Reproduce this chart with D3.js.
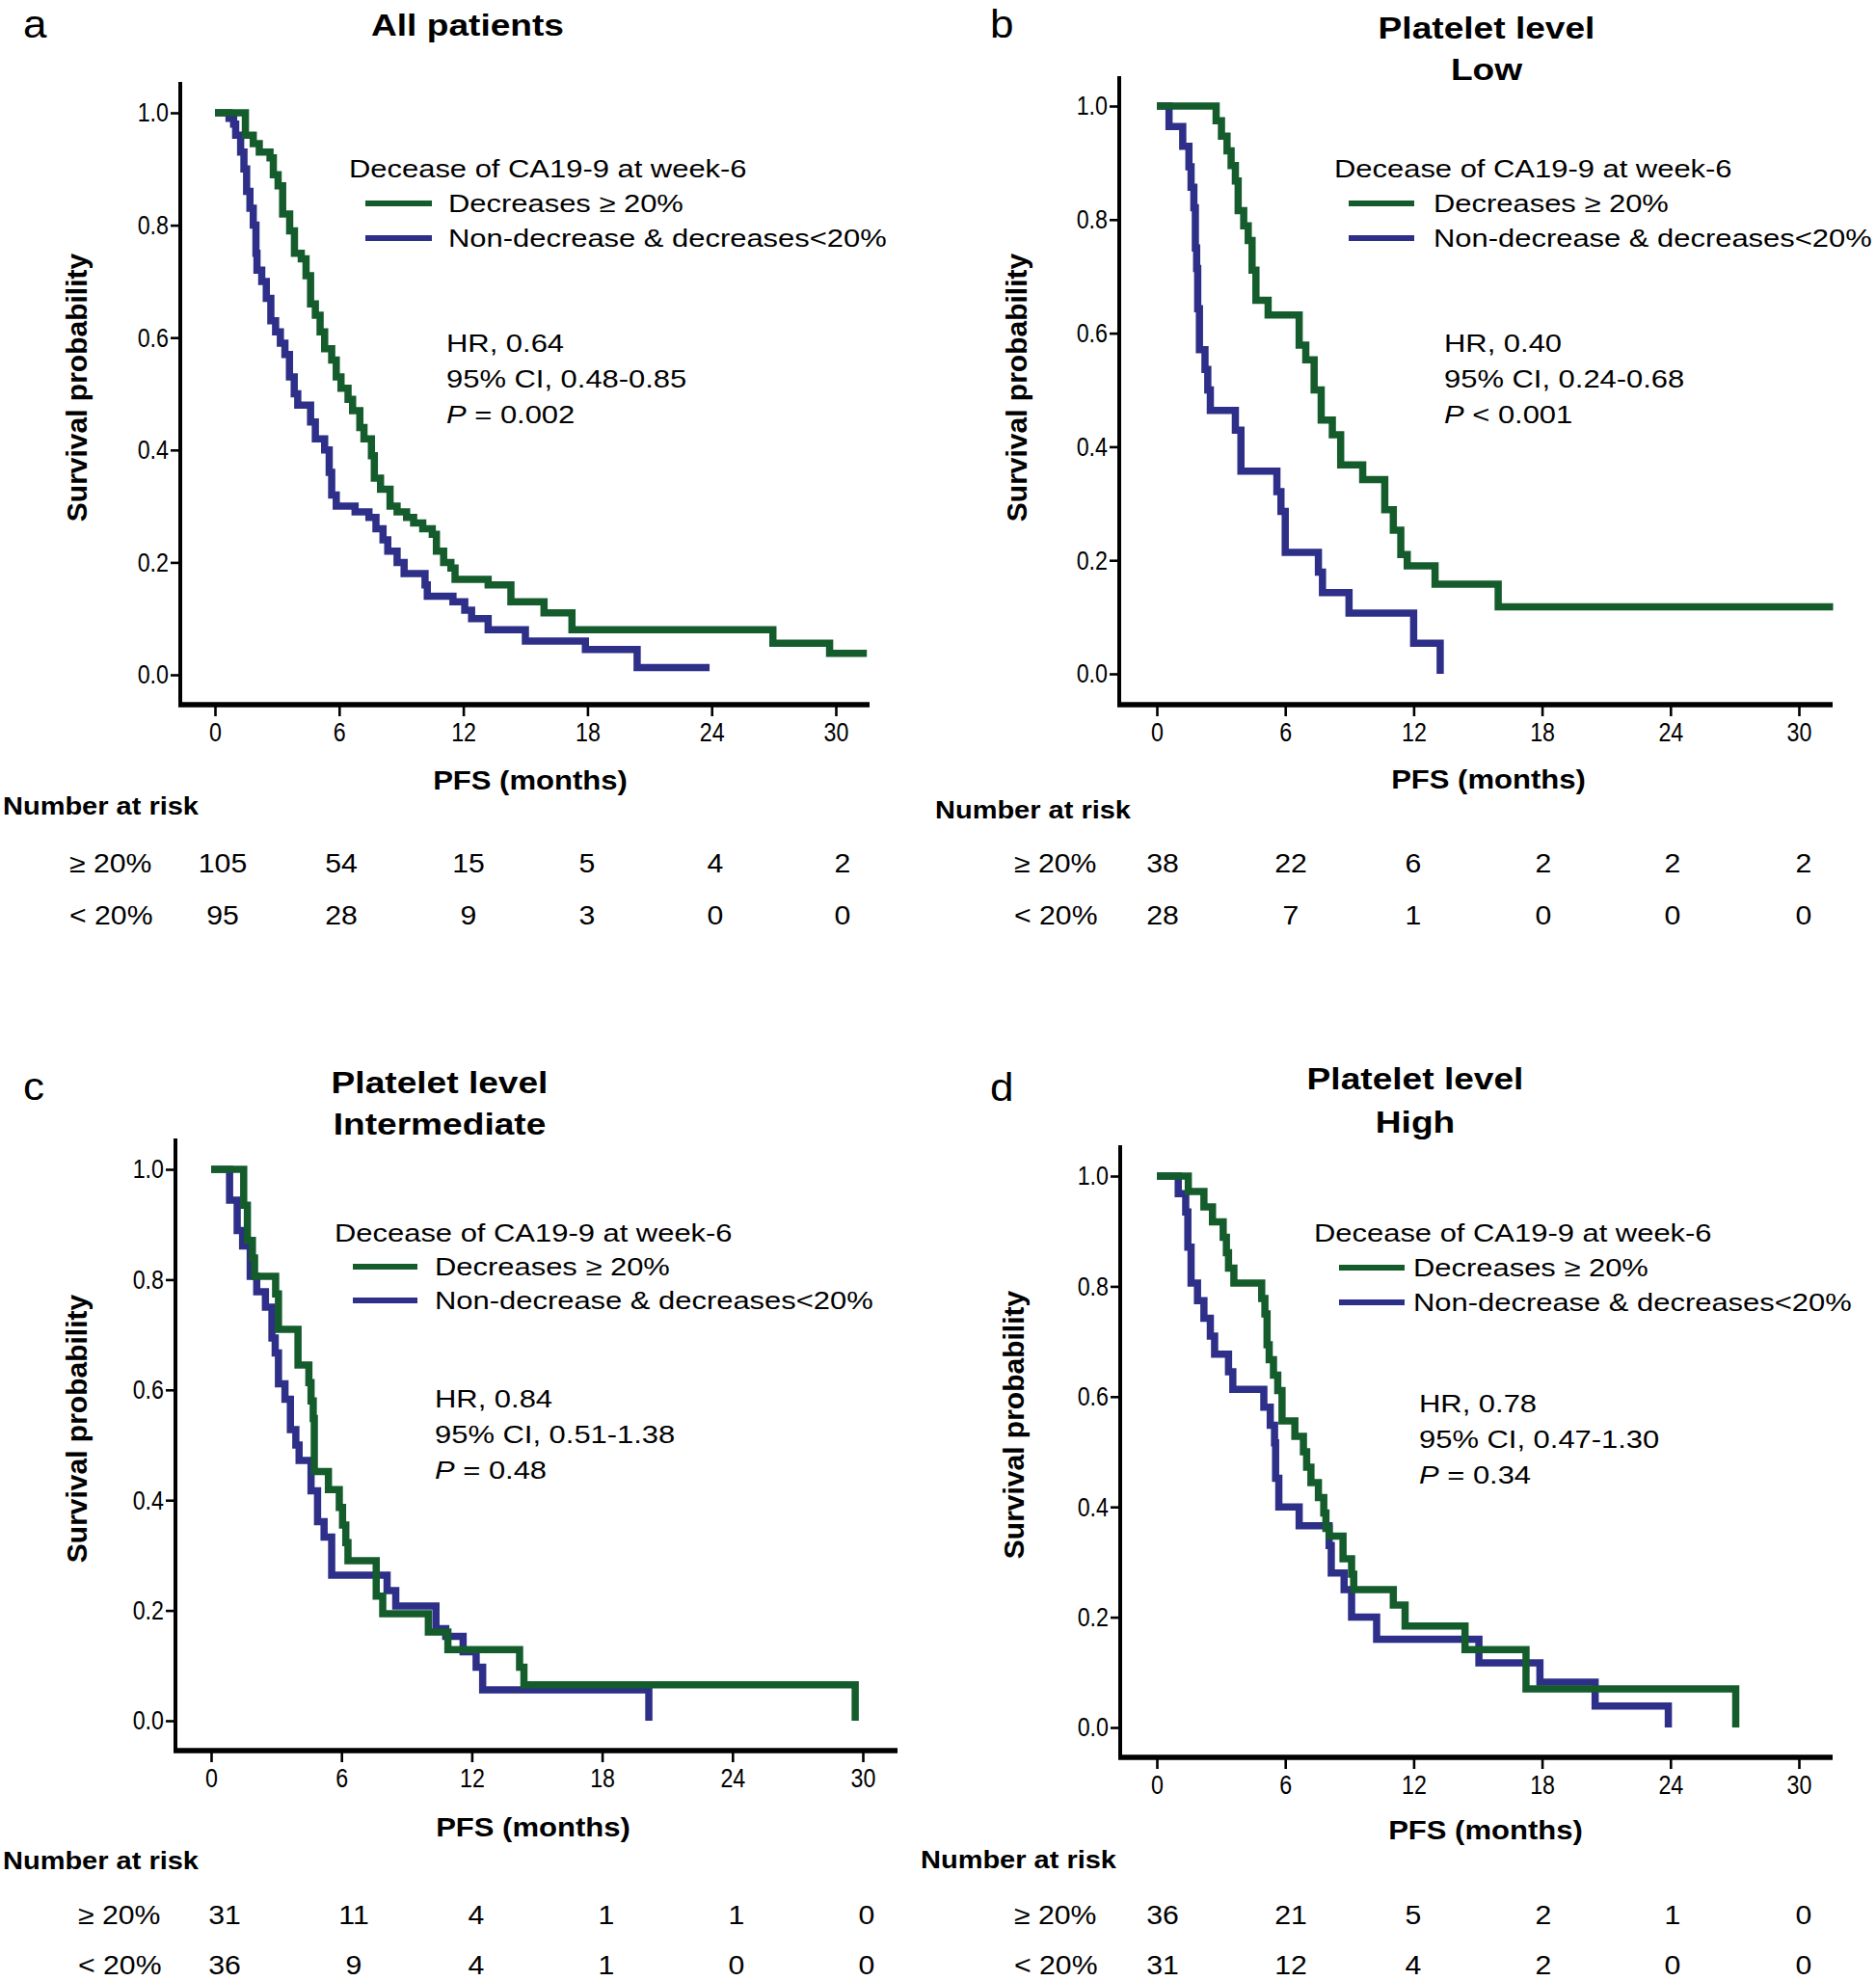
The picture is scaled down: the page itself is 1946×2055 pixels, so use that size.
<!DOCTYPE html>
<html><head><meta charset="utf-8">
<script src="https://cdn.jsdelivr.net/npm/d3@7"></script>
<style>
body{margin:0;background:#fff}
svg{display:block}
text{font-family:"Liberation Sans",Arial,Helvetica,sans-serif;fill:#000}
</style>
</head><body>
<svg id="chart" width="1946" height="2055"></svg>
<script>
// ---------- DATA ----------
const timeTicks = [0, 6, 12, 18, 24, 30];
const survTicks = [0, 0.2, 0.4, 0.6, 0.8, 1.0];
const legendTitle = "Decease of CA19-9 at week-6";
const groupNames = ["Decreases \u2265 20%", "Non-decrease & decreases<20%"];
const riskRowLabels = ["\u2265 20%", "< 20%"];
const panelLetters = ["a", "b", "c", "d"];
const panelTitles = [["All patients"], ["Platelet level", "Low"], ["Platelet level", "Intermediate"], ["Platelet level", "High"]];
const hrTexts = ["HR, 0.64", "HR, 0.40", "HR, 0.84", "HR, 0.78"];
const ciTexts = ["95% CI, 0.48-0.85", "95% CI, 0.24-0.68", "95% CI, 0.51-1.38", "95% CI, 0.47-1.30"];
const pTexts = [" = 0.002", " < 0.001", " = 0.48", " = 0.34"];
const xLabel = "PFS (months)";
const yLabel = "Survival probability";
const riskTitle = "Number at risk";

// Kaplan-Meier step points [months, survival]
const aGreen = [[0,1],[1.47,0.96],[1.85,0.945],[2.14,0.93],[2.66,0.92],[2.82,0.89],[3.05,0.87],[3.27,0.82],[3.61,0.79],[3.84,0.75],[4.17,0.74],[4.4,0.71],[4.62,0.66],[4.85,0.64],[5.08,0.61],[5.3,0.58],[5.64,0.56],[5.86,0.53],[6.09,0.51],[6.43,0.49],[6.65,0.47],[7.0,0.44],[7.2,0.42],[7.56,0.39],[7.7,0.35],[8.0,0.33],[8.46,0.30],[8.8,0.29],[9.26,0.28],[9.6,0.27],[10.04,0.26],[10.5,0.25],[10.7,0.22],[11.05,0.20],[11.4,0.19],[11.6,0.17],[13.2,0.16],[14.3,0.13],[15.9,0.11],[17.25,0.08],[26.96,0.056],[29.7,0.038],[31.5,0.038]];
const aBlue = [[0,1],[0.68,0.99],[0.9,0.98],[1.0,0.96],[1.24,0.93],[1.4,0.90],[1.53,0.86],[1.69,0.83],[1.85,0.80],[1.98,0.75],[2.03,0.72],[2.26,0.70],[2.48,0.67],[2.7,0.63],[2.93,0.61],[3.16,0.59],[3.38,0.57],[3.6,0.53],[3.83,0.50],[4.0,0.48],[4.62,0.45],[4.85,0.42],[5.3,0.40],[5.52,0.36],[5.64,0.32],[5.86,0.30],[6.77,0.29],[7.44,0.28],[7.78,0.26],[8.12,0.24],[8.35,0.22],[8.8,0.20],[9.14,0.18],[10.15,0.16],[10.26,0.14],[11.5,0.13],[12.07,0.115],[12.4,0.10],[13.2,0.08],[15.0,0.06],[17.9,0.045],[20.4,0.013],[23.9,0.013]];
const bGreen = [[0,1],[2.77,0.974],[3.02,0.947],[3.28,0.921],[3.47,0.895],[3.67,0.868],[3.8,0.816],[4.06,0.789],[4.27,0.763],[4.45,0.711],[4.63,0.658],[5.2,0.632],[6.65,0.579],[6.96,0.553],[7.35,0.50],[7.68,0.447],[8.2,0.421],[8.59,0.368],[9.62,0.342],[10.65,0.289],[11.05,0.253],[11.4,0.21],[11.7,0.19],[13.0,0.158],[15.95,0.118],[31.6,0.118]];
const bBlue = [[0,1],[0.57,0.964],[1.21,0.929],[1.5,0.893],[1.6,0.857],[1.73,0.821],[1.8,0.75],[1.86,0.714],[1.91,0.643],[1.99,0.571],[2.25,0.536],[2.38,0.50],[2.5,0.464],[3.67,0.429],[3.93,0.357],[5.61,0.321],[5.8,0.286],[6.0,0.214],[7.55,0.179],[7.74,0.143],[8.98,0.107],[12.0,0.054],[13.24,0.0]];
const cGreen = [[0,1],[1.5,0.935],[1.67,0.871],[1.9,0.839],[2.0,0.806],[2.97,0.774],[3.1,0.71],[4.0,0.645],[4.5,0.613],[4.6,0.58],[4.7,0.548],[4.75,0.452],[5.4,0.419],[5.9,0.387],[6.05,0.355],[6.2,0.323],[6.3,0.29],[7.6,0.226],[7.9,0.194],[10.0,0.161],[10.9,0.129],[14.2,0.097],[14.4,0.065],[29.65,0.0]];
const cBlue = [[0,1],[0.85,0.944],[1.2,0.889],[1.45,0.861],[1.8,0.806],[2.1,0.778],[2.5,0.75],[2.8,0.694],[2.95,0.667],[3.1,0.611],[3.4,0.583],[3.65,0.528],[3.9,0.50],[4.05,0.472],[4.6,0.417],[4.9,0.361],[5.2,0.333],[5.55,0.264],[8.1,0.236],[8.5,0.208],[10.35,0.167],[10.8,0.153],[11.6,0.125],[12.2,0.097],[12.5,0.056],[20.15,0.0]];
const dGreen = [[0,1],[1.47,0.972],[2.2,0.944],[2.6,0.917],[3.1,0.889],[3.25,0.861],[3.35,0.833],[3.6,0.806],[4.9,0.778],[5.05,0.75],[5.15,0.694],[5.25,0.667],[5.45,0.639],[5.65,0.611],[5.85,0.556],[6.45,0.528],[6.85,0.50],[7.0,0.472],[7.2,0.444],[7.55,0.417],[7.8,0.389],[7.9,0.361],[8.05,0.347],[8.7,0.306],[9.1,0.278],[9.2,0.25],[11.05,0.222],[11.6,0.184],[14.4,0.141],[17.25,0.07],[27.05,0.0]];
const dBlue = [[0,1],[1.0,0.968],[1.35,0.935],[1.45,0.871],[1.6,0.806],[1.9,0.774],[2.2,0.742],[2.5,0.71],[2.7,0.677],[3.35,0.645],[3.55,0.613],[5.0,0.581],[5.3,0.548],[5.5,0.516],[5.55,0.452],[5.7,0.40],[6.65,0.366],[8.05,0.33],[8.15,0.28],[8.75,0.25],[9.1,0.2],[10.27,0.16],[15.05,0.117],[17.9,0.082],[20.48,0.039],[23.9,0.0]];

// Number at risk
const aRiskHigh = [105, 54, 15, 5, 4, 2];
const aRiskLow  = [95, 28, 9, 3, 0, 0];
const bRiskHigh = [38, 22, 6, 2, 2, 2];
const bRiskLow  = [28, 7, 1, 0, 0, 0];
const cRiskHigh = [31, 11, 4, 1, 1, 0];
const cRiskLow  = [36, 9, 4, 1, 0, 0];
const dRiskHigh = [36, 21, 5, 2, 1, 0];
const dRiskLow  = [31, 12, 4, 2, 0, 0];

const greenCurves = [aGreen, bGreen, cGreen, dGreen];
const blueCurves = [aBlue, bBlue, cBlue, dBlue];
const riskHigh = [aRiskHigh, bRiskHigh, cRiskHigh, dRiskHigh];
const riskLow = [aRiskLow, bRiskLow, cRiskLow, dRiskLow];

// ---------- LAYOUT ----------
const COLORS = {green: "#145c2c", blue: "#2d2f88"};
const layouts = [
  {axisX:187, axisY:731, yTop:85, xRight:902, x0:223, x30:867, y1:117, y0:700,
   letter:[24,39], titleX:485, titleY:[26], xLabX:550, xLabY:810, yLabX:79, yLabY:402,
   legX:362, legY:175, legLine:[379,448], legTextX:465, legDy:36, statX:463, statY:356, statDy:37,
   riskTitle:[3,836], rowLabX:72, rowY:[896,950], riskXs:[231,354,486,609,742,874]},
  {axisX:1161, axisY:731, yTop:79, xRight:1901, x0:1200, x30:1866, y1:110, y0:699,
   letter:[1027,39], titleX:1542, titleY:[29,72], xLabX:1544, xLabY:809, yLabX:1054, yLabY:402,
   legX:1384, legY:175, legLine:[1399,1467], legTextX:1487, legDy:36, statX:1498, statY:356, statDy:37,
   riskTitle:[970,840], rowLabX:1052, rowY:[896,950], riskXs:[1206,1339,1466,1601,1735,1871]},
  {axisX:182, axisY:1816, yTop:1181, xRight:931, x0:219, x30:895, y1:1213, y0:1785,
   letter:[24,1141], titleX:456, titleY:[1123,1166], xLabX:553, xLabY:1896, yLabX:79, yLabY:1482,
   legX:347, legY:1279, legLine:[366,433], legTextX:451, legDy:35, statX:451, statY:1451, statDy:37,
   riskTitle:[3,1930], rowLabX:81, rowY:[1987,2039], riskXs:[233,367,494,629,764,899]},
  {axisX:1162, axisY:1823, yTop:1188, xRight:1901, x0:1200, x30:1866, y1:1220, y0:1792,
   letter:[1027,1142], titleX:1468, titleY:[1119,1164], xLabX:1541, xLabY:1899, yLabX:1051, yLabY:1478,
   legX:1363, legY:1279, legLine:[1389,1457], legTextX:1466, legDy:36, statX:1472, statY:1456, statDy:37,
   riskTitle:[955,1929], rowLabX:1052, rowY:[1987,2039], riskXs:[1206,1339,1466,1601,1735,1871]}
];

// text styles: size = glyph height based, sx = horizontal stretch
const ST = {
  letter: {size: 40, sx: 1.1},
  title:  {size: 32, sx: 1.16, weight: "bold"},
  axisLab:{size: 27, sx: 1.15, weight: "bold"},
  yLab:   {size: 30, sx: 1.0, weight: "bold"},
  legend: {size: 26, sx: 1.19},
  riskT:  {size: 25, sx: 1.16, weight: "bold"},
  risk:   {size: 27, sx: 1.12},
  tick:   {size: 28, sx: 0.83}
};

const svg = d3.select("#chart");
svg.append("rect").attr("width", 1946).attr("height", 2055).attr("fill", "#fff");

function addText(g, x, y, s, st, anchor, rot) {
  const t = g.append("text")
    .attr("transform", `translate(${x},${y})${rot ? " rotate(" + rot + ")" : ""} scale(${st.sx},1)`)
    .attr("font-size", st.size)
    .attr("dominant-baseline", "central")
    .attr("text-anchor", anchor || "start");
  if (st.weight) t.attr("font-weight", st.weight);
  if (s !== null) t.text(s);
  return t;
}

layouts.forEach((L, i) => {
  const g = svg.append("g");
  const x = d3.scaleLinear().domain([0, 30]).range([L.x0, L.x30]);
  const y = d3.scaleLinear().domain([0, 1]).range([L.y0, L.y1]);

  g.append("text").attr("transform", `translate(${L.letter[0]},${L.letter[1]}) scale(${ST.letter.sx},1)`)
    .attr("font-size", ST.letter.size).text(panelLetters[i]);

  panelTitles[i].forEach((t, k) => addText(g, L.titleX, L.titleY[k], t, ST.title, "middle"));

  // axes
  const yAxis = d3.axisLeft(y).tickValues(survTicks).tickFormat(d3.format(".1f"))
    .tickSize(10).tickPadding(2);
  const yg = g.append("g").attr("transform", `translate(${L.axisX},0)`).call(yAxis);
  yg.select(".domain").remove();
  yg.selectAll(".tick line").attr("stroke", "#000").attr("stroke-width", 2.6);
  yg.selectAll(".tick text").attr("font-size", ST.tick.size).attr("font-family", null).attr("fill", "#000")
    .attr("x", 0).attr("transform", `translate(-12,0) scale(${ST.tick.sx},1)`);

  const xAxis = d3.axisBottom(x).tickValues(timeTicks).tickFormat(d3.format("d"))
    .tickSize(12).tickPadding(6);
  const xg = g.append("g").attr("transform", `translate(0,${L.axisY})`).call(xAxis);
  xg.select(".domain").remove();
  xg.selectAll(".tick line").attr("stroke", "#000").attr("stroke-width", 2.6);
  xg.selectAll(".tick text").attr("font-size", ST.tick.size).attr("font-family", null).attr("fill", "#000")
    .attr("transform", `scale(${ST.tick.sx},1)`);

  g.append("line").attr("x1", L.axisX).attr("x2", L.axisX).attr("y1", L.yTop).attr("y2", L.axisY + 2)
    .attr("stroke", "#000").attr("stroke-width", 4);
  g.append("line").attr("x1", L.axisX - 2).attr("x2", L.xRight).attr("y1", L.axisY).attr("y2", L.axisY)
    .attr("stroke", "#000").attr("stroke-width", 5.5);

  addText(g, L.xLabX, L.xLabY, xLabel, ST.axisLab, "middle");
  addText(g, L.yLabX, L.yLabY, yLabel, ST.yLab, "middle", -90);

  // curves
  const line = d3.line().x(d => x(d[0])).y(d => y(d[1])).curve(d3.curveStepAfter);
  [[blueCurves[i], COLORS.blue], [greenCurves[i], COLORS.green]].forEach(([data, col]) => {
    g.append("path").datum(data).attr("d", line).attr("fill", "none")
      .attr("stroke", col).attr("stroke-width", 7.5)
      .attr("stroke-linejoin", "miter").attr("stroke-linecap", "butt");
  });

  // legend
  addText(g, L.legX, L.legY, legendTitle, ST.legend);
  [COLORS.green, COLORS.blue].forEach((col, k) => {
    const yy = L.legY + L.legDy * (k + 1);
    g.append("line").attr("x1", L.legLine[0]).attr("x2", L.legLine[1]).attr("y1", yy).attr("y2", yy)
      .attr("stroke", col).attr("stroke-width", 6);
    addText(g, L.legTextX, yy, groupNames[k], ST.legend);
  });

  // stats
  addText(g, L.statX, L.statY, hrTexts[i], ST.legend);
  addText(g, L.statX, L.statY + L.statDy, ciTexts[i], ST.legend);
  const pt = addText(g, L.statX, L.statY + 2 * L.statDy, null, ST.legend);
  pt.append("tspan").attr("font-style", "italic").text("P");
  pt.append("tspan").text(pTexts[i]);

  // number at risk
  addText(g, L.riskTitle[0], L.riskTitle[1], riskTitle, ST.riskT);
  [riskHigh[i], riskLow[i]].forEach((row, k) => {
    addText(g, L.rowLabX, L.rowY[k], riskRowLabels[k], ST.risk);
    row.forEach((d, j) => addText(g, L.riskXs[j], L.rowY[k], String(d), ST.risk, "middle"));
  });
});
</script>
</body></html>
